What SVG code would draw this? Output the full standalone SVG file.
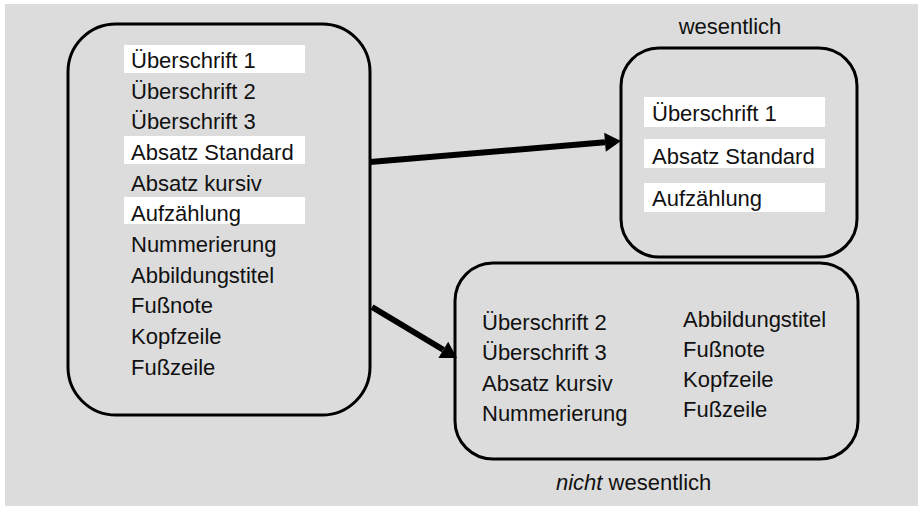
<svg xmlns="http://www.w3.org/2000/svg" width="918" height="506" viewBox="0 0 918 506">
<style>
.box{fill:none;stroke:#000;stroke-width:3}
.hl{fill:#fff}
text{font-family:"Liberation Sans",Arial,sans-serif;font-size:22px;fill:#111}
.conn{stroke:#000;stroke-width:6;fill:none}
</style>
<defs>
<marker id="ah" markerUnits="userSpaceOnUse" markerWidth="17" markerHeight="20" refX="0" refY="9.5" orient="auto" overflow="visible">
<path d="M0,0 L16,9.5 L0,19 z" fill="#000"/>
</marker>
</defs>
<rect x="5" y="4" width="913" height="502" fill="#dcdcdc"/>
<g id="alle">
<rect class="box" x="68" y="24" width="302" height="391" rx="48" ry="48"/>
<rect class="hl" x="124" y="45" width="181" height="28"/>
<rect class="hl" x="124" y="136" width="181" height="28"/>
<rect class="hl" x="124" y="197" width="181" height="27"/>
<text x="131" y="68">Überschrift 1</text>
<text x="131" y="99">Überschrift 2</text>
<text x="131" y="129">Überschrift 3</text>
<text x="131" y="160">Absatz Standard</text>
<text x="131" y="191">Absatz kursiv</text>
<text x="131" y="221">Aufzählung</text>
<text x="131" y="252">Nummerierung</text>
<text x="131" y="283">Abbildungstitel</text>
<text x="131" y="313">Fußnote</text>
<text x="131" y="344">Kopfzeile</text>
<text x="131" y="375">Fußzeile</text>
</g>
<g id="wesentlich">
<text x="730" y="34" text-anchor="middle">wesentlich</text>
<rect class="box" x="621" y="48" width="236" height="209" rx="38" ry="38"/>
<rect class="hl" x="644" y="97" width="181" height="30"/>
<rect class="hl" x="644" y="139" width="181" height="29"/>
<rect class="hl" x="644" y="183" width="181" height="29"/>
<text x="652" y="121">Überschrift 1</text>
<text x="652" y="164">Absatz Standard</text>
<text x="652" y="206">Aufzählung</text>
</g>
<g id="nicht-wesentlich">
<rect class="box" x="455" y="263" width="403" height="196" rx="38" ry="38"/>
<text x="482" y="330">Überschrift 2</text>
<text x="482" y="360">Überschrift 3</text>
<text x="482" y="391">Absatz kursiv</text>
<text x="482" y="421">Nummerierung</text>
<text x="683" y="327">Abbildungstitel</text>
<text x="683" y="357">Fußnote</text>
<text x="683" y="387">Kopfzeile</text>
<text x="683" y="417">Fußzeile</text>
<text x="556" y="490"><tspan font-style="italic">nicht</tspan> wesentlich</text>
</g>
<g id="connectors">
<line class="conn" x1="370" y1="162" x2="605" y2="142.3" marker-end="url(#ah)"/>
<line class="conn" x1="372" y1="307" x2="443.3" y2="349.8" marker-end="url(#ah)"/>
</g>
</svg>
